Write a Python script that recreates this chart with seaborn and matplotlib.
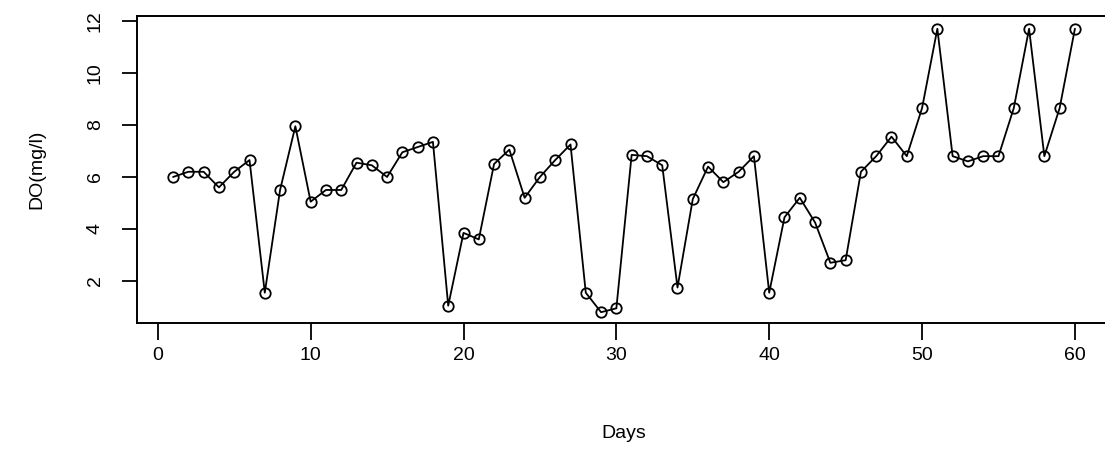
import matplotlib
matplotlib.use("Agg")
import matplotlib.pyplot as plt
import seaborn as sns
import pandas as pd

days = list(range(1, 61))
do_values = [6.0, 6.2, 6.2, 5.6, 6.2, 6.65, 1.55, 5.5, 7.95, 5.05,
             5.5, 5.5, 6.55, 6.45, 6.0, 6.95, 7.15, 7.35, 1.05, 3.85,
             3.6, 6.5, 7.05, 5.2, 6.0, 6.65, 7.25, 1.55, 0.8, 0.95,
             6.85, 6.8, 6.45, 1.75, 5.15, 6.4, 5.8, 6.2, 6.8, 1.55,
             4.45, 5.2, 4.25, 2.7, 2.8, 6.2, 6.8, 7.55, 6.8, 8.65,
             11.7, 6.8, 6.6, 6.8, 6.8, 8.65, 11.7, 6.8, 8.65, 11.7]
x_ticks = [0, 10, 20, 30, 40, 50, 60]
y_ticks = [2, 4, 6, 8, 10, 12]
x_label = "Days"
y_label = "DO(mg/l)"

sns.set_theme(style="ticks")
plt.rcParams['font.family'] = ['Liberation Sans', 'DejaVu Sans']

W, H = 1105, 455
fig = plt.figure(figsize=(W / 100, H / 100), dpi=100)
left, right, top, bottom = 137, 1111, 16, 323
ax = fig.add_axes([left / W, (H - bottom) / H, (right - left) / W, (bottom - top) / H])

df = pd.DataFrame({"day": days, "do": do_values})
sns.lineplot(data=df, x="day", y="do", ax=ax, color="black", linewidth=1.3,
             marker="o", markersize=7.5, markerfacecolor="none",
             markeredgecolor="black", markeredgewidth=1.3)

ax.set_xlim(-1.36, 62.36)
ax.set_ylim(0.385, 12.19)
ax.set_xticks(x_ticks)
ax.set_yticks(y_ticks)
ax.set_xticklabels([str(t) for t in x_ticks])
ax.set_yticklabels([str(t) for t in y_ticks], rotation=90, va="center")

for s in ax.spines.values():
    s.set_visible(True)
    s.set_color("black")
    s.set_linewidth(1.4)

ax.tick_params(axis="x", direction="out", length=12, width=1.3, pad=5,
               labelsize=14, colors="black")
ax.tick_params(axis="y", direction="out", length=11, width=1.3, pad=13,
               labelsize=14, colors="black")
ax.set_xlabel(x_label, fontsize=14, labelpad=44, color="black")
ax.set_ylabel(y_label, fontsize=14, labelpad=30, color="black")

fig.savefig("out.png", dpi=100, facecolor="white")
